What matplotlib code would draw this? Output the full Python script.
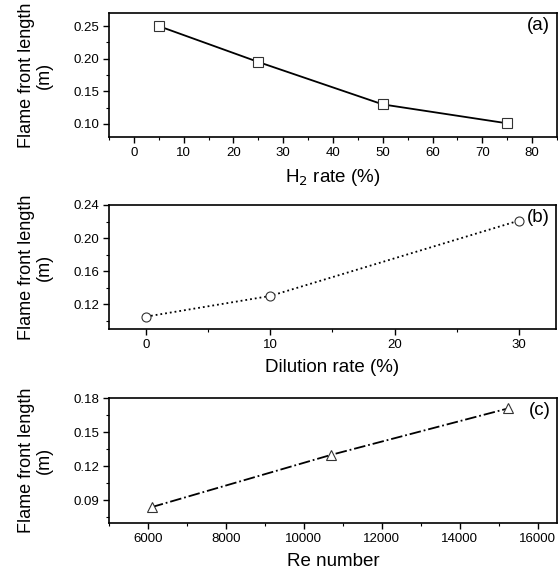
import matplotlib.pyplot as plt
from matplotlib.ticker import MultipleLocator, FormatStrFormatter

plt.rcParams['font.family'] = ['Liberation Sans', 'DejaVu Sans']

# (a) H2 rate
h2_rate = [5, 25, 50, 75]
h2_len = [0.250, 0.195, 0.130, 0.101]

# (b) dilution rate
dil_rate = [0, 10, 30]
dil_len = [0.105, 0.130, 0.221]

# (c) Reynolds number
re_num = [6100, 10700, 15250]
re_len = [0.084, 0.130, 0.171]

fig = plt.figure(figsize=(5.58, 5.70), dpi=100)
ax_a = fig.add_axes([0.1953, 0.7596, 0.8029, 0.2175])
ax_b = fig.add_axes([0.1953, 0.4228, 0.8011, 0.2176])
ax_c = fig.add_axes([0.1953, 0.0825, 0.8029, 0.2190])

mk = dict(markerfacecolor='white', markeredgecolor='#333333', markersize=6.5,
          markeredgewidth=0.8, color='black')

ax_a.plot(h2_rate, h2_len, '-', marker='s', lw=1.3, **mk)
ax_b.plot(dil_rate, dil_len, ':', marker='o', lw=1.3, **mk)
ax_c.plot(re_num, re_len, '-.', marker='^', lw=1.3, **mk)

ax_a.set_xlim(-5, 85)
ax_a.set_ylim(0.08, 0.27)
ax_a.xaxis.set_major_locator(MultipleLocator(10))
ax_a.xaxis.set_minor_locator(MultipleLocator(5))
ax_a.yaxis.set_major_locator(MultipleLocator(0.05))
ax_a.yaxis.set_minor_locator(MultipleLocator(0.025))
ax_a.set_xlabel('H$_2$ rate (%)')

ax_b.set_xlim(-3, 33)
ax_b.set_ylim(0.09, 0.24)
ax_b.xaxis.set_major_locator(MultipleLocator(10))
ax_b.xaxis.set_minor_locator(MultipleLocator(5))
ax_b.yaxis.set_major_locator(MultipleLocator(0.04))
ax_b.yaxis.set_minor_locator(MultipleLocator(0.02))
ax_b.set_xlabel('Dilution rate (%)')

ax_c.set_xlim(5000, 16500)
ax_c.set_ylim(0.07, 0.18)
ax_c.xaxis.set_major_locator(MultipleLocator(2000))
ax_c.xaxis.set_minor_locator(MultipleLocator(1000))
ax_c.yaxis.set_major_locator(MultipleLocator(0.03))
ax_c.yaxis.set_minor_locator(MultipleLocator(0.015))
ax_c.set_xlabel('Re number')

for ax, tag in zip([ax_a, ax_b, ax_c], ['(a)', '(b)', '(c)']):
    ax.yaxis.set_major_formatter(FormatStrFormatter('%.2f'))
    ax.tick_params(which='major', direction='out', length=4, width=1,
                   labelsize=9.5, pad=3)
    ax.tick_params(which='minor', direction='out', length=2.5, width=0.8)
    for s in ax.spines.values():
        s.set_linewidth(1.2)
    ax.xaxis.label.set_size(13.5)
    ax.xaxis.labelpad = 6
    ax.set_ylabel('Flame front length\n(m)', fontsize=13, linespacing=1.05)
    ax.yaxis.set_label_coords(-0.125, 0.5)
    ax.text(0.985, 0.9, tag, transform=ax.transAxes, ha='right', va='center',
            fontsize=13.5)

fig.savefig('out.png', dpi=100)
